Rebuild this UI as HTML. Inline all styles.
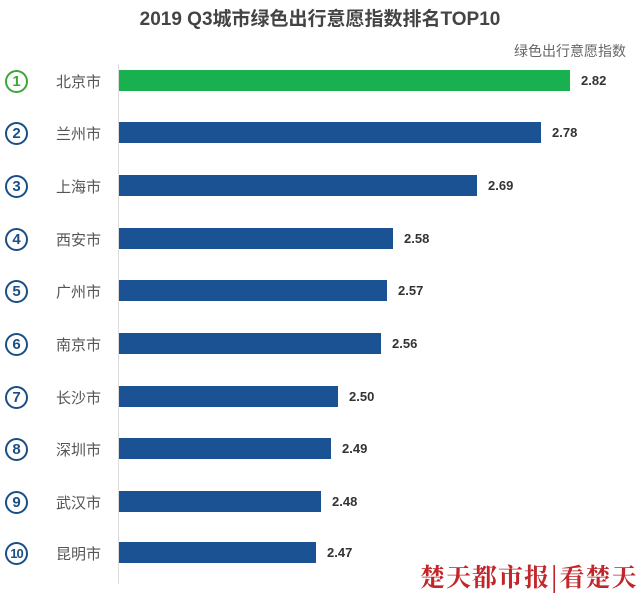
<!DOCTYPE html><html><head><meta charset="utf-8"><style>
body{margin:0;width:640px;height:599px;background:#fff;position:relative;overflow:hidden;font-family:"Liberation Sans","Noto Sans CJK SC",sans-serif}
.t{position:absolute;left:0;width:640px;top:4px;text-align:center;font-size:19px;font-weight:bold;color:#444}
.s{position:absolute;right:14px;top:41px;font-size:14px;color:#666}
.ax{position:absolute;left:118px;top:64px;width:1px;height:520px;background:#ddd}
.r{position:absolute;left:0;width:640px;height:30px}
.c{position:absolute;left:5px;top:4px;width:19px;height:19px;border:2.5px solid #1a4f86;border-radius:50%;color:#1a4f86;font-weight:bold;font-size:15px;text-align:center;line-height:19px}
.n{position:absolute;left:56px;top:5px;font-size:15px;color:#555}
.b{position:absolute;left:119px;top:4px;height:21px;background:#1a5294}
.v{position:absolute;top:7px;font-size:13px;font-weight:bold;color:#333}
.w{position:absolute;left:420px;top:558px;font-family:"Noto Serif CJK SC",serif;font-size:25px;color:#c0262a;font-weight:bold;letter-spacing:1px}
</style></head><body>
<div class="t">2019 Q3城市绿色出行意愿指数排名TOP10</div>
<div class="s">绿色出行意愿指数</div>
<div class="ax"></div>
<div class="r" style="top:66px"><div class="c" style="border-color:#3aa935;color:#3aa935">1</div><div class="n">北京市</div><div class="b" style="width:451px;background:#19b14f"></div><div class="v" style="left:581px">2.82</div></div>
<div class="r" style="top:118px"><div class="c">2</div><div class="n">兰州市</div><div class="b" style="width:422px"></div><div class="v" style="left:552px">2.78</div></div>
<div class="r" style="top:171px"><div class="c">3</div><div class="n">上海市</div><div class="b" style="width:358px"></div><div class="v" style="left:488px">2.69</div></div>
<div class="r" style="top:224px"><div class="c">4</div><div class="n">西安市</div><div class="b" style="width:274px"></div><div class="v" style="left:404px">2.58</div></div>
<div class="r" style="top:276px"><div class="c">5</div><div class="n">广州市</div><div class="b" style="width:268px"></div><div class="v" style="left:398px">2.57</div></div>
<div class="r" style="top:329px"><div class="c">6</div><div class="n">南京市</div><div class="b" style="width:262px"></div><div class="v" style="left:392px">2.56</div></div>
<div class="r" style="top:382px"><div class="c">7</div><div class="n">长沙市</div><div class="b" style="width:219px"></div><div class="v" style="left:349px">2.50</div></div>
<div class="r" style="top:434px"><div class="c">8</div><div class="n">深圳市</div><div class="b" style="width:212px"></div><div class="v" style="left:342px">2.49</div></div>
<div class="r" style="top:487px"><div class="c">9</div><div class="n">武汉市</div><div class="b" style="width:202px"></div><div class="v" style="left:332px">2.48</div></div>
<div class="r" style="top:538px"><div class="c" style="font-size:13px;letter-spacing:-1px">10</div><div class="n">昆明市</div><div class="b" style="width:197px"></div><div class="v" style="left:327px">2.47</div></div>
<div class="w">楚天都市报|看楚天</div>
</body></html>
